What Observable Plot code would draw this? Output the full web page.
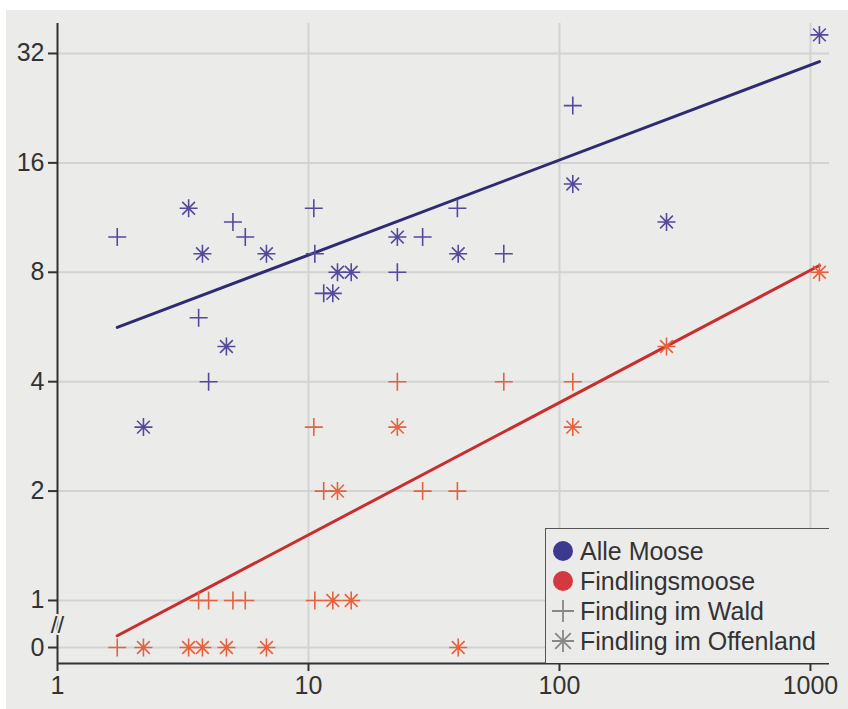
<!DOCTYPE html>
<html><head><meta charset="utf-8">
<script src="https://cdn.jsdelivr.net/npm/d3@7"></script>
<script src="https://cdn.jsdelivr.net/npm/@observablehq/plot@0.6"></script>
<style>
html,body{margin:0;padding:0;background:#fff;}
#wrap{position:relative;width:848px;height:709px;overflow:hidden;}
#paper{position:absolute;left:6px;top:10px;right:0;bottom:0;background:#ebebea;}
#chart{position:absolute;left:0;top:0;}
#legend{position:absolute;left:545px;top:528px;width:284px;height:135px;background:#ebebea;border-left:1.5px solid #555;border-top:1.5px solid #555;box-sizing:border-box;padding-top:7px;font-family:"Liberation Sans",Arial,sans-serif;font-size:25px;color:#333;}
#legend .row{height:30px;display:flex;align-items:center;}
#legend svg{width:24px;height:24px;margin-left:5px;margin-right:5px;flex:none;}
</style></head>
<body>
<div id="wrap"><div id="paper"></div><div id="chart"></div><div id="legend"></div></div>
<script>
// Wald (+) sites: area, all mosses, erratic mosses
const waldX       = [1.73, 3.65, 4.0, 5.0, 5.6, 10.5, 10.6, 11.5, 22.6, 28.5, 39.2, 60, 113];
const waldAll     = [10, 6, 4, 11, 10, 12, 9, 7, 8, 10, 12, 9, 23];
const waldErratic = [0, 1, 1, 1, 1, 3, 1, 2, 4, 2, 2, 4, 4];
// Offenland (*) sites
const offenX       = [2.2, 3.33, 3.78, 4.71, 6.8, 12.5, 13.05, 14.8, 22.6, 39.5, 113, 267, 1086];
const offenAll     = [3, 12, 9, 5, 9, 7, 8, 8, 10, 9, 14, 11, 36];
const offenErratic = [0, 0, 0, 0, 0, 1, 2, 1, 3, 0, 3, 5, 8];
// regression lines (log-log)
const fitX       = [1.73, 1086];
const fitAll     = [5.64, 30.4];
const fitErratic = [0.80, 8.35];
// axes
const xTicks = [1, 10, 100, 1000];
const yTicks = [0, 1, 2, 4, 8, 16, 32];
const legendLabels = ["Alle Moose", "Findlingsmoose", "Findling im Wald", "Findling im Offenland"];

const ZERO_T = -0.43;          // position of the broken "0" on the log2 axis
const BREAK_T = -0.23;
const yT = v => v > 0 ? Math.log2(v) : ZERO_T;

const BLUE = "#544a9c", RED = "#e4623d", BLUE_LINE = "#2f2b73", RED_LINE = "#c92e2e";

const plusSym = {draw(ctx, size){ const r = Math.sqrt(size/Math.PI);
  ctx.moveTo(-r,0); ctx.lineTo(r,0); ctx.moveTo(0,-r); ctx.lineTo(0,r);}};
const starSym = {draw(ctx, size){ const r = Math.sqrt(size/Math.PI);
  for (let k=0;k<4;k++){ const a = k*Math.PI/4; const c=Math.cos(a)*r, s=Math.sin(a)*r;
    ctx.moveTo(-c,-s); ctx.lineTo(c,s);} }};

const pts = (xs, vs) => xs.map((x,i)=>({x, t: yT(vs[i])}));
const waldAllPts = pts(waldX, waldAll), waldErrPts = pts(waldX, waldErratic);
const offenAllPts = pts(offenX, offenAll), offenErrPts = pts(offenX, offenErratic);
const fitAllPts = pts(fitX, fitAll), fitErrPts = pts(fitX, fitErratic);

const FONT = "'Liberation Sans', Arial, sans-serif";
const yDomain = [-0.576, 5.274];

const chart = Plot.plot({
  width: 848, height: 709,
  marginLeft: 57, marginRight: 19, marginTop: 23, marginBottom: 46,
  style: {background: "transparent", fontFamily: FONT, color: "#333"},
  x: {type: "log", domain: [1, 1191]},
  y: {type: "linear", domain: yDomain},
  marks: [
    Plot.gridY(yTicks.map(yT), {stroke: "#d3d3d3", strokeOpacity: 1, strokeWidth: 2}),
    Plot.gridX(xTicks.slice(1), {stroke: "#d3d3d3", strokeOpacity: 1, strokeWidth: 2}),
    Plot.ruleX([1], {stroke: "#333", strokeWidth: 2}),
    Plot.ruleY([yDomain[0]], {stroke: "#333", strokeWidth: 2}),
    Plot.axisX({ticks: xTicks, tickSize: 8, tickPadding: 5, strokeWidth: 2, stroke: "#333",
      tickFormat: d => String(d), fontSize: 25, fill: "#333", label: null}),
    Plot.axisY({ticks: yTicks.map(yT), tickSize: 9, tickPadding: 4, strokeWidth: 2, stroke: "#333",
      tickFormat: (d, i) => String(yTicks[i]), fontSize: 25, fill: "#333", label: null}),
    Plot.text([BREAK_T], {x: () => 1, y: d => d, text: () => "//", fontSize: 24, dx: 0,
      fill: "#333", stroke: "#ebebea", strokeWidth: 4}),
    Plot.line(fitAllPts, {x: "x", y: "t", stroke: BLUE_LINE, strokeWidth: 3}),
    Plot.line(fitErrPts, {x: "x", y: "t", stroke: RED_LINE, strokeWidth: 3}),
    Plot.dot(waldAllPts, {x: "x", y: "t", symbol: plusSym, r: 9, stroke: BLUE, strokeWidth: 1.6}),
    Plot.dot(offenAllPts, {x: "x", y: "t", symbol: starSym, r: 9, stroke: BLUE, strokeWidth: 1.6}),
    Plot.dot(waldErrPts, {x: "x", y: "t", symbol: plusSym, r: 9, stroke: RED, strokeWidth: 1.6}),
    Plot.dot(offenErrPts, {x: "x", y: "t", symbol: starSym, r: 9, stroke: RED, strokeWidth: 1.6})
  ]
});
document.getElementById("chart").appendChild(chart);

// legend
const icons = [
  '<circle cx="12" cy="12" r="10" fill="#3b3990"/>',
  '<circle cx="12" cy="12" r="10" fill="#d3393f"/>',
  '<path d="M1,12H23M12,1V23" stroke="#888" stroke-width="1.8" fill="none"/>',
  '<path d="M1,12H23M12,1V23M4.2,4.2L19.8,19.8M19.8,4.2L4.2,19.8" stroke="#888" stroke-width="1.8" fill="none"/>'
];
const leg = document.getElementById("legend");
legendLabels.forEach((lab, i) => {
  const row = document.createElement("div");
  row.className = "row";
  row.innerHTML = `<svg viewBox="0 0 24 24">${icons[i]}</svg><span>${lab}</span>`;
  leg.appendChild(row);
});
</script>
</body></html>
